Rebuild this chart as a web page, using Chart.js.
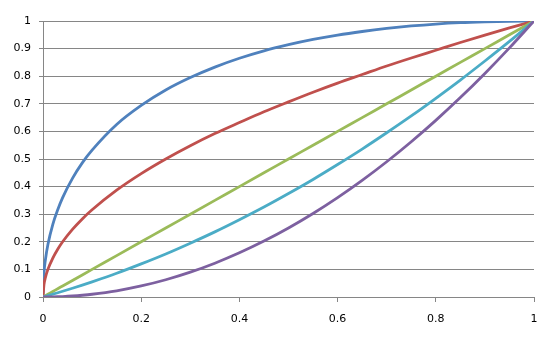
<!DOCTYPE html>
<html>
<head>
<meta charset="utf-8">
<script src="https://cdn.jsdelivr.net/npm/chart.js@4"></script>
<style>
  html, body { margin: 0; padding: 0; background: #fff; }
  #wrap { width: 560px; height: 337px; }
</style>
</head>
<body>
<div id="wrap"><canvas id="chart" width="560" height="337"></canvas></div>
<script>
// x positions
const xs = [0, 0.002, 0.005, 0.01, 0.02, 0.03, 0.04, 0.06, 0.08,
            0.1, 0.15, 0.2, 0.25, 0.3, 0.35, 0.4, 0.45, 0.5, 0.55,
            0.6, 0.65, 0.7, 0.75, 0.8, 0.85, 0.9, 0.95, 1];

const blueY   = [0, 0.087, 0.136, 0.19, 0.263, 0.316, 0.36, 0.43, 0.486,
                 0.532, 0.625, 0.694, 0.75, 0.795, 0.833, 0.865, 0.892, 0.914, 0.933,
                 0.949, 0.962, 0.973, 0.982, 0.989, 0.994, 0.997, 0.999, 1];
const redY    = [0, 0.045, 0.071, 0.1, 0.141, 0.173, 0.2, 0.245, 0.283,
                 0.316, 0.387, 0.447, 0.5, 0.548, 0.592, 0.632, 0.671, 0.707, 0.742,
                 0.775, 0.806, 0.837, 0.866, 0.894, 0.922, 0.949, 0.975, 1];
const greenY  = [0, 0.002, 0.005, 0.01, 0.02, 0.03, 0.04, 0.06, 0.08,
                 0.1, 0.15, 0.2, 0.25, 0.3, 0.35, 0.4, 0.45, 0.5, 0.55,
                 0.6, 0.65, 0.7, 0.75, 0.8, 0.85, 0.9, 0.95, 1];
const cyanY   = [0, 0.001, 0.0025, 0.005, 0.0102, 0.0155, 0.0208, 0.0318, 0.0432,
                 0.055, 0.086, 0.12, 0.156, 0.195, 0.236, 0.28, 0.326, 0.375, 0.426,
                 0.48, 0.536, 0.595, 0.656, 0.72, 0.786, 0.855, 0.926, 1];
const purpleY = [0, 0, 0, 0.0001, 0.0004, 0.0009, 0.0016, 0.0036, 0.0064,
                 0.01, 0.0225, 0.04, 0.0625, 0.09, 0.1225, 0.16, 0.2025, 0.25, 0.3025,
                 0.36, 0.4225, 0.49, 0.5625, 0.64, 0.7225, 0.81, 0.9025, 1];

const xTicks = [0, 0.2, 0.4, 0.6, 0.8, 1];
const yTicks = [0, 0.1, 0.2, 0.3, 0.4, 0.5, 0.6, 0.7, 0.8, 0.9, 1];

const gridColor = "#868686";
const font = { family: "'DejaVu Sans'", size: 11 };

function pts(ys) {
    return xs.map((x, i) => ({ x, y: ys[i] }));
}

function series(ys, color) {
    return {
        data: pts(ys),
        borderColor: color,
        borderWidth: 2.8,
        pointRadius: 0,
        fill: false,
        cubicInterpolationMode: "monotone",
    };
}

const fmt = (v) => parseFloat(Number(v).toFixed(1)).toString();

new Chart(document.getElementById("chart").getContext("2d"), {
    type: "line",
    data: {
        datasets: [
            series(purpleY, "#7D60A0"),
            series(cyanY, "#4BACC6"),
            series(greenY, "#9BBB59"),
            series(redY, "#C0504D"),
            series(blueY, "#4F81BD"),
        ],
    },
    options: {
        responsive: false,
        animation: false,
        layout: { padding: { top: 21, right: 26, left: 0, bottom: 0 } },
        plugins: { legend: { display: false }, tooltip: { enabled: false } },
        scales: {
            x: {
                type: "linear",
                min: 0,
                max: 1,
                afterBuildTicks: (s) => { s.ticks = xTicks.map((v) => ({ value: v })); },
                afterFit: (s) => { s.height = 40; },
                grid: { drawOnChartArea: false, color: gridColor, tickLength: 5 },
                border: { color: gridColor },
                ticks: { color: "#000", font, padding: 11, maxRotation: 0, callback: fmt },
            },
            y: {
                min: 0,
                max: 1,
                afterBuildTicks: (s) => { s.ticks = yTicks.map((v) => ({ value: v })); },
                afterFit: (s) => { s.width = 43; },
                grid: { color: gridColor, tickLength: 4 },
                border: { color: gridColor },
                ticks: { color: "#000", font, padding: 8, callback: fmt },
            },
        },
    },
});
</script>
</body>
</html>
